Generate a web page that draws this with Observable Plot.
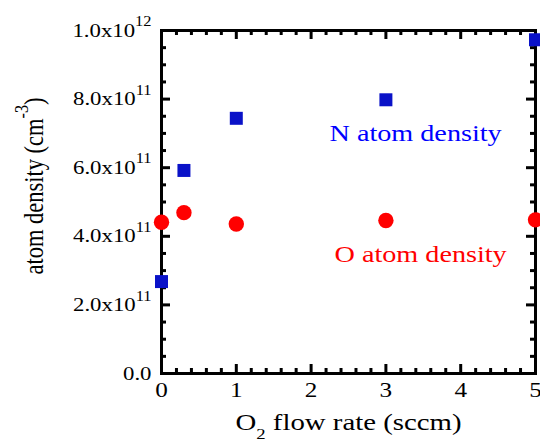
<!DOCTYPE html>
<html><head><meta charset="utf-8">
<script src="https://cdn.jsdelivr.net/npm/d3@7"></script>
<script src="https://cdn.jsdelivr.net/npm/@observablehq/plot@0.6"></script>
<style>html,body{margin:0;padding:0;background:#fff}#chart svg{display:block}</style>
</head><body><div id="chart"></div>
<script>
// Data (densities in units of 1e11 cm^-3)
const flowRate = [0, 0.3, 1, 3, 5];
const nDensity = [2.68, 5.92, 7.44, 7.98, 9.73];
const oDensity = [4.41, 4.69, 4.36, 4.46, 4.48];

const yTickValues = [0, 2, 4, 6, 8, 10];
const yTickLabels = ["0.0", "2.0x10^{11}", "4.0x10^{11}", "6.0x10^{11}", "8.0x10^{11}", "1.0x10^{12}"];
const xTickValues = [0, 1, 2, 3, 4, 5];
const xTickLabels = ["0", "1", "2", "3", "4", "5"];
const yMinor = d3.range(0, 21).map(i => i / 2).filter(v => v % 2 !== 0);
const xMinor = d3.range(0, 26).map(i => i / 5).filter(v => Math.abs(v - Math.round(v)) > 1e-9);

const seriesNames = ["N atom density", "O atom density"];
const labelX = [2.246, 2.313];
const labelY = [7.01, 3.48];
const textColors = ["#0000ff", "#ff0000"];
const squareColor = "#0a12c8";
const circleColor = "#ff0000";

const xTitle = "O_{2} flow rate (sccm)";
const yTitle = "atom density (cm^{-3})";

const W = 540, H = 439, ML = 161, MR = 5, MT = 30, MB = 66;
const FW = W - ML - MR, FH = H - MT - MB;

const nData = flowRate.map((x, i) => ({x, y: nDensity[i]}));
const oData = flowRate.map((x, i) => ({x, y: oDensity[i]}));
const labels = seriesNames.map((t, i) => ({x: labelX[i], y: labelY[i], t, c: textColors[i]}));

const tk = {stroke: "black", strokeWidth: 3};
const svg = Plot.plot({
  width: W, height: H,
  marginLeft: ML, marginRight: MR, marginTop: MT, marginBottom: MB,
  x: {domain: [0, 5], axis: null},
  y: {domain: [0, 10], axis: null},
  style: {fontFamily: "'Liberation Serif', 'Times New Roman', serif", background: "#fff", overflow: "visible"},
  marks: [
    Plot.frame({stroke: "black", strokeWidth: 3}),
    Plot.tickX(xTickValues, {x: d => d, insetTop: FH - 9, ...tk}),
    Plot.tickX(xMinor, {x: d => d, insetTop: FH - 5, ...tk}),
    Plot.tickX(xTickValues, {x: d => d, insetBottom: FH - 9, ...tk}),
    Plot.tickX(xMinor, {x: d => d, insetBottom: FH - 5, ...tk}),
    Plot.tickY(yTickValues, {y: d => d, insetRight: FW - 9, ...tk}),
    Plot.tickY(yMinor, {y: d => d, insetRight: FW - 5, ...tk}),
    Plot.tickY(yTickValues, {y: d => d, insetLeft: FW - 9, ...tk}),
    Plot.tickY(yMinor, {y: d => d, insetLeft: FW - 5, ...tk}),
    Plot.text(yTickValues, {y: d => d, text: (d, i) => yTickLabels[i], frameAnchor: "left", textAnchor: "end", lineAnchor: "middle", dx: -10, fontSize: 19}),
    Plot.text(xTickValues, {x: d => d, text: (d, i) => xTickLabels[i], frameAnchor: "bottom", textAnchor: "middle", lineAnchor: "middle", dy: 17, fontSize: 21}),
    Plot.text([xTitle], {text: d => d, frameAnchor: "bottom", textAnchor: "middle", lineAnchor: "middle", dy: 49, fontSize: 24}),
    Plot.text([yTitle], {text: d => d, frameAnchor: "left", textAnchor: "middle", lineAnchor: "middle", rotate: -90, dx: -127, dy: -16, fontSize: 22.5}),
    Plot.dot(oData, {x: "x", y: "y", r: 7.7, fill: circleColor, symbol: "circle"}),
    Plot.dot(nData, {x: "x", y: "y", r: 7.33, fill: squareColor, symbol: "square"}),
    Plot.text(labels, {x: "x", y: "y", text: "t", fill: "c", textAnchor: "start", lineAnchor: "middle", fontSize: 23.5})
  ]
});
document.getElementById("chart").appendChild(svg);

// rich text (superscripts / subscripts) and glyph stretch
const NS = "http://www.w3.org/2000/svg";
const SX = 1.2, SR = 1.2;
svg.querySelectorAll("text").forEach(t => {
  const s = t.textContent;
  if (/[\^_]\{/.test(s)) {
    const fs = parseFloat(getComputedStyle(t).fontSize);
    t.textContent = "";
    const re = /([\^_])\{([^}]*)\}/g;
    let last = 0, cur = 0, m;
    const add = (txt, size, off) => {
      const ts = document.createElementNS(NS, "tspan");
      ts.textContent = txt;
      if (size) ts.setAttribute("font-size", size);
      const d = off - cur;
      if (d) ts.setAttribute("dy", d);
      cur = off;
      t.appendChild(ts);
    };
    while ((m = re.exec(s))) {
      if (m.index > last) add(s.slice(last, m.index), null, 0);
      if (m[1] === "^") add(m[2], 0.72 * fs, -0.55 * fs);
      else add(m[2], 0.65 * fs, 0.35 * fs);
      last = re.lastIndex;
    }
    if (last < s.length) add(s.slice(last), null, 0);
  }
  const tr = t.getAttribute("transform") || "";
  const rotated = /rotate/.test(tr);
  t.setAttribute("transform", tr + (rotated ? ` scale(1,${SR})` : ` scale(${SX},1)`));
});
</script>
</body></html>
